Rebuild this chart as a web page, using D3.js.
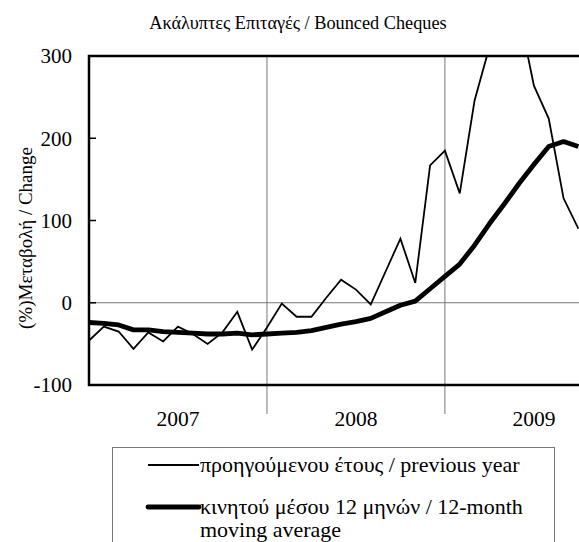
<!DOCTYPE html>
<html><head><meta charset="utf-8">
<script src="https://cdn.jsdelivr.net/npm/d3@7"></script>
<style>body{margin:0;background:#fff}svg{display:block}</style>
</head><body><div id="chart"></div>
<script>
const title = "Ακάλυπτες Επιταγές / Bounced Cheques";
const yLabel = "(%)Μεταβολή / Change";
const yearLabels = ["2007", "2008", "2009"];
const yTicks = [-100, 0, 100, 200, 300];
// monthly index 0 = Jan 2007
const previousYear = [-46,-29,-35,-56,-36,-47,-29,-38,-50,-36,-11,-57,-30,-1,-17,-17,6,28,16,-2,38,78,24,167,185,133,246,311,340,352,264,224,127,90];
const movingAvg = [-24,-25,-27,-33,-33,-35,-36,-37,-38,-38,-37,-39,-38,-37,-36,-34,-30,-26,-23,-19,-11,-3,2,17,32,47,70,96,120,145,168,190,196,190];
const legendLabels = [["προηγούμενου έτους / previous year"], ["κινητού μέσου 12 μηνών / 12-month", "moving average"]];

const FONT = "'Liberation Serif', 'Times New Roman', 'DejaVu Serif', serif";
const W = 579, H = 542;
const m = {left: 89, top: 56, bottom: 385};
const svg = d3.select("#chart").append("svg").attr("width", W).attr("height", H)
  .style("font-family", FONT);
const x = d3.scaleLinear().domain([0, 36]).range([m.left, m.left + 36 * 14.83]);
const y = d3.scaleLinear().domain([-100, 300]).range([m.bottom, m.top]);

function txt(sel) { return sel.style("font-family", FONT).attr("fill", "#000"); }

txt(svg.append("text")).attr("x", 298).attr("y", 29).attr("text-anchor", "middle")
  .style("font-size", "18.3px").text(title);

const defs = svg.append("defs");
defs.append("clipPath").attr("id", "clip").append("rect")
  .attr("x", m.left).attr("y", m.top).attr("width", W - m.left).attr("height", m.bottom - m.top);

// grid lines
svg.append("line").attr("x1", m.left).attr("x2", W).attr("y1", y(0)).attr("y2", y(0))
  .attr("stroke", "#777").attr("stroke-width", 1);
[12, 24].forEach(i => svg.append("line").attr("x1", x(i)).attr("x2", x(i))
  .attr("y1", m.top).attr("y2", m.bottom + 29).attr("stroke", "#777").attr("stroke-width", 1));

// y axis
const yAxis = d3.axisLeft(y).tickValues(yTicks).tickSize(0).tickPadding(17).tickFormat(d => String(d));
const ya = svg.append("g").attr("transform", `translate(${m.left},0)`).call(yAxis);
ya.attr("font-family", null).attr("font-size", null);
ya.select(".domain").remove();
txt(ya.selectAll("text")).style("font-size", "21px").attr("dy", "0.33em");
yTicks.forEach(t => svg.append("line").attr("x1", m.left).attr("x2", m.left + 7)
  .attr("y1", y(t)).attr("y2", y(t)).attr("stroke", "#000").attr("stroke-width", 1.5));

// frame
svg.append("path").attr("d", `M${W},${m.top}H${m.left}V${m.bottom}H${W}`)
  .attr("fill", "none").attr("stroke", "#000").attr("stroke-width", 2.5);

// year labels
yearLabels.forEach((l, i) => txt(svg.append("text")).attr("x", x(i * 12 + 6)).attr("y", 426)
  .attr("text-anchor", "middle").style("font-size", "21.5px").text(l));

// y label
txt(svg.append("text")).attr("transform", "translate(32,238) rotate(-90)").attr("text-anchor", "middle")
  .style("font-size", "19px").text(yLabel);

// lines
const line = d3.line().x((d, i) => x(i)).y(d => y(d));
const g = svg.append("g").attr("clip-path", "url(#clip)");
g.append("path").datum(previousYear).attr("d", line).attr("fill", "none")
  .attr("stroke", "#000").attr("stroke-width", 1.8).attr("stroke-linejoin", "miter");
g.append("path").datum(movingAvg).attr("d", line).attr("fill", "none")
  .attr("stroke", "#000").attr("stroke-width", 4.8).attr("stroke-linejoin", "round");

// legend
svg.append("rect").attr("x", 112.5).attr("y", 447.5).attr("width", 442).attr("height", 110)
  .attr("fill", "#fff").attr("stroke", "#777").attr("stroke-width", 1);
const ly = [465, 507];
const lw = [1.8, 4.8];
legendLabels.forEach((lines, k) => {
  svg.append("line").attr("x1", 148).attr("x2", 199).attr("y1", ly[k]).attr("y2", ly[k])
    .attr("stroke", "#000").attr("stroke-width", lw[k]).attr("stroke-linecap", k ? "round" : "butt");
  lines.forEach((t, j) => txt(svg.append("text")).attr("x", 200).attr("y", ly[k] + 7 + j * 23)
    .style("font-size", "22px").text(t));
});
</script></body></html>
